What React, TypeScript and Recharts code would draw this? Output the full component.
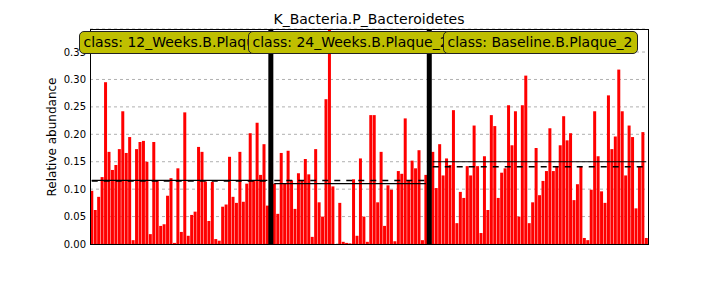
import { BarChart, Bar, XAxis, YAxis, CartesianGrid, ReferenceLine } from 'recharts';

const classNames = ['12_Weeks.B.Plaque_2', '24_Weeks.B.Plaque_2', 'Baseline.B.Plaque_2'];

const class1Values = [
  0.097, 0.062, 0.086, 0.122, 0.295, 0.168, 0.135, 0.144, 0.173, 0.242,
  0.166, 0.195, 0.007, 0.173, 0.186, 0.188, 0.150, 0.018, 0.186, 0.115,
  0.033, 0.036, 0.088, 0.120, 0.002, 0.138, 0.022, 0.240, 0.015, 0.053,
  0.059, 0.177, 0.168, 0.114, 0.042, 0.113, 0.009, 0.006, 0.068, 0.072,
  0.159, 0.086, 0.075, 0.168, 0.077, 0.110, 0.202, 0.115, 0.221, 0.126,
  0.182, 0.070,
];

const class2Values = [
  0.110, 0.055, 0.166, 0.110, 0.170, 0.116, 0.064, 0.129, 0.116, 0.155,
  0.127, 0.013, 0.173, 0.076, 0.050, 0.264, 0.400, 0.105, 0.000, 0.075,
  0.004, 0.002, 0.001, 0.118, 0.015, 0.156, 0.050, 0.004, 0.235, 0.235,
  0.076, 0.168, 0.033, 0.107, 0.099, 0.005, 0.133, 0.128, 0.229, 0.115,
  0.152, 0.138, 0.171, 0.007, 0.126,
];

const class3Values = [
  0.168, 0.102, 0.182, 0.125, 0.156, 0.144, 0.244, 0.038, 0.095, 0.084,
  0.142, 0.125, 0.216, 0.142, 0.020, 0.160, 0.062, 0.235, 0.215, 0.084,
  0.130, 0.138, 0.253, 0.180, 0.242, 0.050, 0.253, 0.307, 0.038, 0.076,
  0.175, 0.089, 0.115, 0.133, 0.211, 0.133, 0.141, 0.180, 0.233, 0.189,
  0.202, 0.080, 0.109, 0.141, 0.011, 0.007, 0.099, 0.242, 0.160, 0.096,
  0.075, 0.271, 0.173, 0.196, 0.318, 0.242, 0.125, 0.216, 0.195, 0.065,
  0.141, 0.204, 0.011,
];

// mean (solid) and median (dashed) per class
const classMeans = [0.116, 0.110, 0.150];
const classMedians = [0.115, 0.116, 0.141];

const yTicks = [0, 0.05, 0.1, 0.15, 0.2, 0.25, 0.3, 0.35];

const classValues = [class1Values, class2Values, class3Values];

// build the table: one row per sample, one empty slot between classes
const chartData: { key: string; value: number | null }[] = [];
const classRanges: { first: string; last: string }[] = [];
const separators: string[] = [];
classValues.forEach((vals, c) => {
  vals.forEach((v, i) => chartData.push({ key: `c${c}_${i}`, value: v }));
  classRanges.push({ first: `c${c}_0`, last: `c${c}_${vals.length - 1}` });
  if (c < classValues.length - 1) {
    chartData.push({ key: `sep${c}`, value: null });
    separators.push(`sep${c}`);
  }
});

const FONT = "'DejaVu Sans', sans-serif";
// label boxes overlap in the original, later ones cover the earlier ones
const boxLefts = [79, 248, 443];

export default function App() {
  return (
    <div style={{ position: 'absolute', left: 0, top: 0, width: 720, height: 288, fontFamily: FONT }}>
      <BarChart
        width={720}
        height={288}
        data={chartData}
        margin={{ top: 29, right: 72, bottom: 44, left: 50 }}
        barCategoryGap="8%"
      >
        <CartesianGrid vertical={false} stroke="#b0b0b0" strokeDasharray="3 3" />
        <XAxis dataKey="key" type="category" hide />
        <YAxis
          width={40}
          domain={[0, 0.392]}
          allowDataOverflow
          ticks={yTicks}
          tickFormatter={(v: number) => v.toFixed(2)}
          axisLine={false}
          tickLine={false}
          tickSize={0}
          tickMargin={4}
          tick={{ fill: '#000', fontSize: 10, fontFamily: FONT }}
        />
        <YAxis yAxisId="lt" orientation="left" mirror domain={[0, 0.392]} allowDataOverflow ticks={yTicks}
          tick={false} axisLine={false} tickSize={4} tickLine={{ stroke: '#000' }} width={0} />
        <YAxis yAxisId="rt" orientation="right" mirror domain={[0, 0.392]} allowDataOverflow ticks={yTicks}
          tick={false} axisLine={false} tickSize={4} tickLine={{ stroke: '#000' }} width={0} />
        <Bar dataKey="value" fill="#ff0000" isAnimationActive={false} />
        {separators.map((s) => (
          <ReferenceLine key={s} x={s} stroke="#000" strokeWidth={5} />
        ))}
        {classRanges.map((r, i) => (
          <ReferenceLine
            key={`mean${i}`}
            segment={[{ x: r.first, y: classMeans[i] }, { x: r.last, y: classMeans[i] }]}
            stroke="#000"
            strokeWidth={1.2}
          />
        ))}
        {classRanges.map((r, i) => (
          <ReferenceLine
            key={`median${i}`}
            segment={[{ x: r.first, y: classMedians[i] }, { x: r.last, y: classMedians[i] }]}
            stroke="#000"
            strokeWidth={1.5}
            strokeDasharray="6 6"
          />
        ))}
      </BarChart>

      {/* axes frame */}
      <div style={{ position: 'absolute', left: 90, top: 29, width: 559, height: 216, boxSizing: 'border-box', border: '1px solid #000', pointerEvents: 'none' }} />

      {classNames.map((name, i) => (
        <div
          key={name}
          style={{
            position: 'absolute',
            left: boxLefts[i],
            top: 31,
            height: 23,
            boxSizing: 'border-box',
            lineHeight: '20px',
            padding: '0 5px 0 3.5px',
            fontSize: 14,
            whiteSpace: 'nowrap',
            background: '#bfbf00',
            border: '1px solid #222',
            borderRadius: 5,
            color: '#000',
          }}
        >
          class: {name}
        </div>
      ))}

      <div style={{ position: 'absolute', left: 369, top: 11, transform: 'translateX(-50%)', fontSize: 14, lineHeight: '16px', whiteSpace: 'nowrap', color: '#000' }}>
        K_Bacteria.P_Bacteroidetes
      </div>

      <div style={{ position: 'absolute', left: 52, top: 136.5, transform: 'translate(-50%, -50%) rotate(-90deg)', fontSize: 12, lineHeight: '14px', whiteSpace: 'nowrap', color: '#000' }}>
        Relative abundance
      </div>
    </div>
  );
}
